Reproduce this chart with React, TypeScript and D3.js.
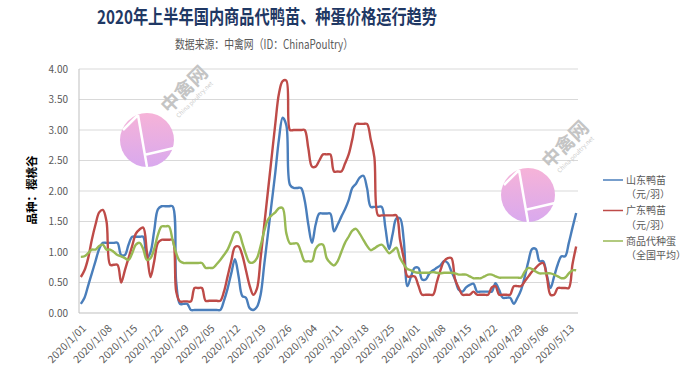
import React from 'react';
import * as d3 from 'd3';

// daily categories, 2020/1/01 .. 2020/5/15
const days = d3.timeDay.range(new Date(2020, 0, 1), new Date(2020, 4, 16));

// 山东鸭苗 (元/羽)
const shandong = [
  0.15, 0.25, 0.45, 0.65, 0.85, 1.05, 1.15, 1.15, 1.15, 1.15,
  1.15, 0.95, 0.95, 1.12, 1.25, 1.25, 1.25, 1.25, 0.9, 1.0,
  1.35, 1.7, 1.75, 1.75, 1.75, 1.75, 0.5, 0.15, 0.15, 0.15,
  0.05, 0.05, 0.05, 0.05, 0.05, 0.05, 0.05, 0.05, 0.05, 0.2,
  0.4, 0.65, 0.88, 0.6, 0.28, 0.25, 0.08, 0.05, 0.1, 0.3,
  0.8, 1.3, 1.8, 2.3, 2.85, 3.2, 3.08, 2.1, 2.05, 2.05,
  2.05, 1.85, 1.45, 1.15, 1.45, 1.63, 1.63, 1.63, 1.63, 1.34,
  1.45, 1.58, 1.7, 1.85, 2.05, 2.12, 2.22, 2.25, 2.05, 1.74,
  1.74, 1.74, 1.74, 1.4, 1.05, 1.3, 1.55, 1.55, 1.2, 0.44,
  0.6, 0.74, 0.74, 0.55, 0.55, 0.65, 0.7, 0.74, 0.78, 0.85,
  0.82, 0.68, 0.55, 0.38, 0.35, 0.42, 0.46, 0.48, 0.35, 0.35,
  0.35, 0.35, 0.35, 0.49, 0.38, 0.25, 0.25, 0.25, 0.15, 0.25,
  0.38, 0.6, 0.85, 1.05, 1.05, 0.85, 0.85, 0.62, 0.41, 0.6,
  0.8, 0.93, 0.93, 1.15, 1.4, 1.64,
];

// 广东鸭苗 (元/羽)
const guangdong = [
  0.59, 0.7, 0.9, 1.2, 1.45, 1.65, 1.69, 1.5, 0.79, 0.79,
  0.79, 0.5, 0.7, 0.9, 1.1, 1.3, 1.37, 1.4, 1.0, 0.59,
  0.85, 1.15, 1.2, 1.2, 1.2, 1.2, 0.35, 0.19, 0.19, 0.19,
  0.19, 0.41, 0.41, 0.41, 0.2, 0.2, 0.2, 0.2, 0.2, 0.35,
  0.6, 0.85, 1.08, 1.09, 0.95, 0.7, 0.45, 0.3, 0.4, 0.9,
  1.45, 2.0, 2.55, 3.1, 3.6, 3.8, 3.81, 3.0, 3.0, 3.0,
  3.0, 3.0, 2.7, 2.4, 2.4, 2.5, 2.6, 2.6, 2.6, 2.32,
  2.32, 2.32, 2.45, 2.6, 2.85, 3.1, 3.1, 3.1, 3.1, 2.85,
  2.55, 1.6, 1.6, 1.6, 1.6, 1.6, 1.6, 1.2, 0.9, 0.6,
  0.6, 0.6, 0.45, 0.3, 0.3, 0.3, 0.3, 0.5, 0.7, 0.85,
  0.9, 0.9, 0.55, 0.41, 0.3, 0.3, 0.3, 0.35, 0.3, 0.3,
  0.3, 0.3, 0.42, 0.44, 0.3, 0.3, 0.3, 0.3, 0.44, 0.44,
  0.44, 0.52, 0.6, 0.68, 0.74, 0.8, 0.82, 0.6, 0.3, 0.3,
  0.41, 0.41, 0.41, 0.41, 0.8, 1.09,
];

// 商品代种蛋 (全国平均)
const zhongdan = [
  0.92, 0.93, 0.98, 1.04, 1.04, 1.1, 1.12, 1.04, 1.04, 1.0,
  0.95, 0.93, 0.9, 0.87, 0.98, 1.12, 1.15, 1.05, 0.87, 0.9,
  1.05, 1.28, 1.42, 1.42, 1.42, 1.2, 0.98, 0.85, 0.82, 0.82,
  0.82, 0.82, 0.82, 0.82, 0.74, 0.74, 0.74, 0.8, 0.87, 0.95,
  1.04, 1.18, 1.32, 1.32, 1.15, 0.96, 0.83, 0.83, 0.9, 1.1,
  1.35, 1.53, 1.6, 1.65, 1.72, 1.72, 1.31, 1.14, 1.14, 1.14,
  1.0, 0.85, 0.85, 0.85, 1.05, 1.12, 1.12, 0.9, 0.82, 0.78,
  0.85, 1.0, 1.15, 1.25, 1.35, 1.38, 1.3, 1.2, 1.1, 1.03,
  1.06, 1.1, 1.12, 1.06, 0.98, 1.02, 1.07, 0.9, 0.8, 0.72,
  0.7, 0.67, 0.66, 0.66, 0.66, 0.66, 0.67, 0.66, 0.65, 0.66,
  0.66, 0.66, 0.65, 0.63, 0.63, 0.63, 0.6, 0.57, 0.57, 0.57,
  0.6, 0.63, 0.63, 0.6, 0.58, 0.58, 0.58, 0.58, 0.58, 0.58,
  0.58, 0.68, 0.74, 0.72, 0.68, 0.65, 0.65, 0.65, 0.65, 0.63,
  0.6, 0.57, 0.58, 0.65, 0.7, 0.7,
];

const seriesNames = ['山东鸭苗', '广东鸭苗', '商品代种蛋'];
const seriesUnits = ['（元/羽）', '（元/羽）', '（全国平均）'];
const seriesColors = ['#4a7ebb', '#be4b48', '#98b954'];

const xTickLabels = [
  '2020/1/01', '2020/1/08', '2020/1/15', '2020/1/22', '2020/1/29',
  '2020/2/05', '2020/2/12', '2020/2/19', '2020/2/26', '2020/3/04',
  '2020/3/11', '2020/3/18', '2020/3/25', '2020/4/01', '2020/4/08',
  '2020/4/15', '2020/4/22', '2020/4/29', '2020/5/06', '2020/5/13',
];
const yTicks = [0, 0.5, 1, 1.5, 2, 2.5, 3, 3.5, 4];

const W = 695;
const H = 384;
const plot = { left: 79, right: 578, top: 69, bottom: 313 };
const font = '"Noto Sans CJK SC", "Noto Sans", sans-serif';

const Logo = ({ cx, cy, id }: { cx: number; cy: number; id: string }) => (
  <g>
    <defs>
      <linearGradient id={id} x1="0" y1="0" x2="0" y2="1">
        <stop offset="0%" stopColor="#f6b3d8" />
        <stop offset="100%" stopColor="#d9a9ee" />
      </linearGradient>
    </defs>
    <g transform={`translate(${cx},${cy})`}>
      <circle r={27} fill={`url(#${id})`} />
      <path d="M-24,-10 L-9,-25 M-9,-25 L0,27 M-3,15 L27,8" stroke="#fff" strokeWidth={2.5} fill="none" />
    </g>
    <g transform={`translate(${cx + 42},${cy - 46}) rotate(-45)`}>
      <text textAnchor="middle" fontFamily={font} fontWeight="bold" fontSize={19} fill="#c4c4c4">中禽网</text>
      <text y={10} textAnchor="middle" fontFamily={font} fontSize={6} fill="#cccccc">China poultry.net</text>
    </g>
  </g>
);

export default function App() {
  const x = d3
    .scalePoint<number>()
    .domain(days.map((d) => +d))
    .range([plot.left, plot.right])
    .padding(0.5);
  const y = d3.scaleLinear().domain([0, 4]).range([plot.bottom, plot.top]);
  const parse = d3.timeParse('%Y/%m/%d');

  const line = d3
    .line<number>()
    .x((_, i) => x(+days[i]) as number)
    .y((v) => y(v))
    .curve(d3.curveCatmullRom.alpha(0.5));

  const series = [shandong, guangdong, zhongdan];

  return (
    <div style={{ position: 'absolute', left: 0, top: 0 }}>
      <svg width={W} height={H} style={{ display: 'block', background: '#fff' }}>
        {/* title */}
        <text x={267} y={24} textAnchor="middle" fontFamily={font} fontWeight="bold" fontSize={19}
          fill="#1f3864" textLength={340} lengthAdjust="spacingAndGlyphs">
          2020年上半年国内商品代鸭苗、种蛋价格运行趋势
        </text>
        <text x={264} y={49} textAnchor="middle" fontFamily={font} fontSize={12.5}
          fill="#595959" textLength={178} lengthAdjust="spacingAndGlyphs">
          数据来源：中禽网（ID：ChinaPoultry）
        </text>

        {/* grid */}
        {yTicks.map((t) => (
          <line key={t} x1={plot.left} x2={plot.right} y1={y(t)} y2={y(t)}
            stroke={t === 0 ? '#bfbfbf' : '#d9d9d9'} strokeWidth={1} />
        ))}
        <line x1={plot.left} x2={plot.left} y1={plot.top} y2={plot.bottom} stroke="#bfbfbf" />

        {yTicks.map((t) => (
          <text key={t} x={68} y={y(t)} dy="0.35em" textAnchor="end" fontFamily={font}
            fontSize={10} fill="#595959">
            {t.toFixed(2)}
          </text>
        ))}

        <text transform={`translate(36,190) rotate(-90)`} textAnchor="middle" fontFamily={font}
          fontWeight="bold" fontSize={11.5} fill="#000">
          品种：樱桃谷
        </text>

        {xTickLabels.map((lab) => {
          const tx = x(+(parse(lab) as Date)) as number;
          return (
            <text key={lab} transform={`translate(${tx + 6},${plot.bottom + 16}) rotate(-45)`}
              textAnchor="end" fontFamily={font} fontSize={10.5} fill="#595959">
              {lab}
            </text>
          );
        })}

        <Logo cx={147} cy={140} id="lg1" />
        <Logo cx={528} cy={195} id="lg2" />

        {series.map((s, i) => (
          <path key={i} d={line(s) || ''} fill="none" stroke={seriesColors[i]} strokeWidth={2.4}
            strokeLinejoin="round" />
        ))}

        {/* legend */}
        {seriesNames.map((n, i) => {
          const ly = 180 + i * 30.5;
          return (
            <g key={n}>
              <line x1={603} x2={623} y1={ly} y2={ly} stroke={seriesColors[i]} strokeWidth={1.5} />
              <text x={626} y={ly} dy="0.35em" fontFamily={font} fontSize={10} fill="#595959">{n}</text>
              <text x={626} y={ly + 14.5} dy="0.35em" fontFamily={font} fontSize={10} fill="#595959">{seriesUnits[i]}</text>
            </g>
          );
        })}
      </svg>
    </div>
  );
}
